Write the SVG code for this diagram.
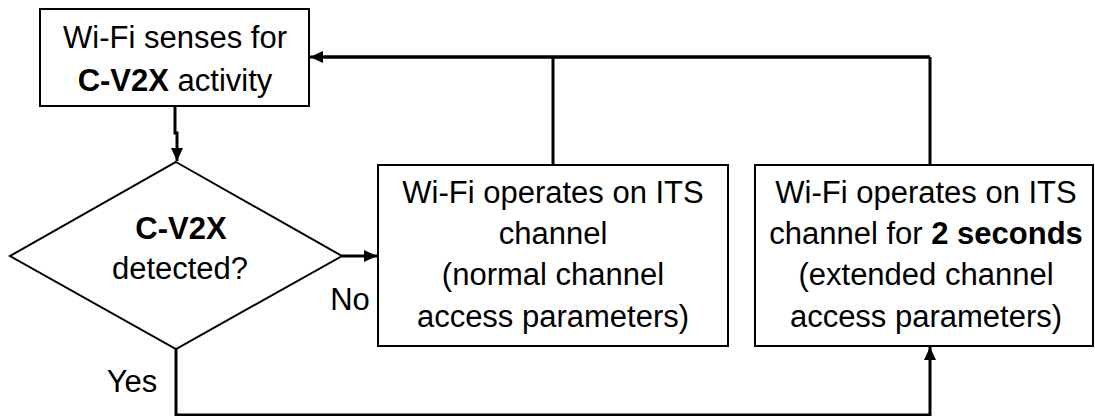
<svg xmlns="http://www.w3.org/2000/svg" width="1095" height="416" viewBox="0 0 1095 416">
<style>
.box{fill:#fff;stroke:#000;stroke-width:2}
.t{font-family:"Liberation Sans",Arial,sans-serif;font-size:31px;fill:#000;text-anchor:middle}
.b{font-weight:bold}
.c{fill:none;stroke:#000;stroke-width:3}
</style>
<defs>
<marker id="ah" markerUnits="userSpaceOnUse" markerWidth="14" markerHeight="14" refX="13" refY="7" orient="auto">
<path d="M0,1 L13,7 L0,13 z" fill="#000"/>
</marker>
</defs>
<g id="connectors">
<path class="c" d="M553,165 V57 M930,165 V57 M930,57 H324" />
<path class="c" d="M930,57 H310" marker-end="url(#ah)"/>
<path class="c" d="M175,106 V133 H177 V161" marker-end="url(#ah)"/>
<path class="c" d="M342,256 H377" marker-end="url(#ah)"/>
<path class="c" d="M176,349 V415 H930 V347" marker-end="url(#ah)"/>
</g>
<g id="sense">
<rect class="box" x="40" y="9" width="269" height="97"/>
<text class="t" x="175" y="48">Wi-Fi senses for</text>
<text class="t" x="175" y="91"><tspan class="b">C-V2X</tspan> activity</text>
</g>
<g id="decision">
<polygon class="box" points="176,162 342,256 176,349 10,256"/>
<text class="t b" x="181" y="239">C-V2X</text>
<text class="t" x="180" y="279">detected?</text>
</g>
<g id="label-no"><text class="t" x="350" y="310">No</text></g>
<g id="label-yes"><text class="t" x="132" y="392">Yes</text></g>
<g id="normal">
<rect class="box" x="378" y="165" width="350" height="181"/>
<text class="t" x="553" y="203">Wi-Fi operates on ITS</text>
<text class="t" x="553" y="244">channel</text>
<text class="t" x="553" y="285">(normal channel</text>
<text class="t" x="553" y="327">access parameters)</text>
</g>
<g id="extended">
<rect class="box" x="755" y="165" width="338" height="181"/>
<text class="t" x="926" y="203">Wi-Fi operates on ITS</text>
<text class="t" x="926" y="244">channel for <tspan class="b">2 seconds</tspan></text>
<text class="t" x="926" y="285">(extended channel</text>
<text class="t" x="926" y="327">access parameters)</text>
</g>
</svg>
